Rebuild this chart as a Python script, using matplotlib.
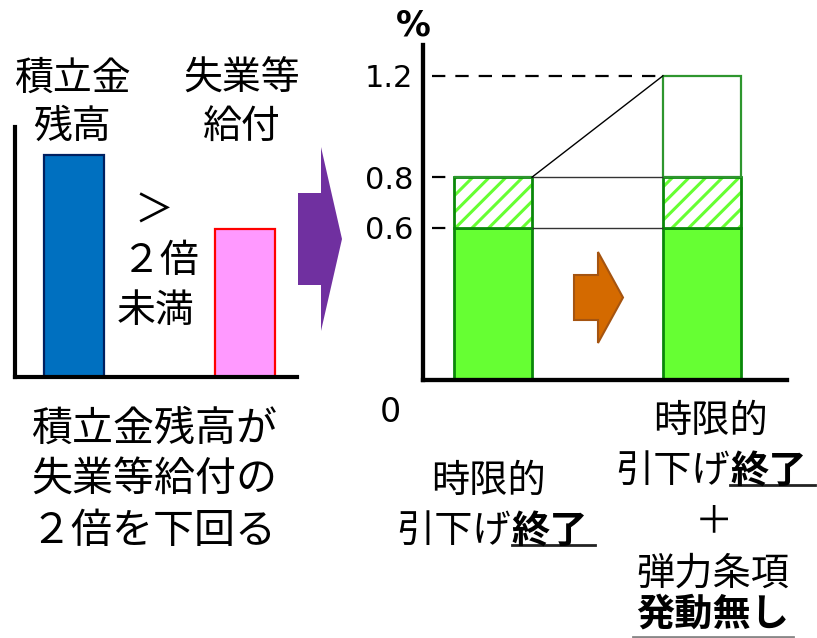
import matplotlib
matplotlib.use('Agg')
import matplotlib.pyplot as plt
from matplotlib.patches import FancyArrow

plt.rcParams['font.family'] = ['Noto Sans CJK JP', 'DejaVu Sans']
plt.rcParams['hatch.linewidth'] = 2.2

# left diagram: reserve balance vs unemployment benefits (relative)
left_names = [['積立金', '残高'], ['失業等', '給付']]
left_values = [1.5, 1.0]
left_colors = ['#0070C0', '#FF99FF']
left_edges = ['#002060', '#FF0000']

# right chart: premium rate (%)
rate_base = [0.6, 0.6]   # reduced rate
rate_temp = [0.8, 0.8]   # end of temporary reduction
rate_top = [0.8, 1.2]    # + no elastic clause
rate_ticks = [0.6, 0.8, 1.2]

W, H = 817, 638
fig = plt.figure(figsize=(W / 100, H / 100), dpi=100)


def box(x0, y0, x1, y1):
    # pixel box -> figure fraction
    return [x0 / W, 1 - y1 / H, (x1 - x0) / W, (y1 - y0) / H]


# ---- left small chart
ax1 = fig.add_axes(box(15, 127, 297, 377))
ax1.bar([0, 1], left_values, width=0.35, color=left_colors,
        edgecolor=left_edges, linewidth=1.6)
ax1.set_xlim(-0.345, 1.304)
ax1.set_ylim(0, 1.69)
for s in ['top', 'right']:
    ax1.spines[s].set_visible(False)
for s in ['left', 'bottom']:
    ax1.spines[s].set_linewidth(3)
ax1.set_xticks([])
ax1.set_yticks([])

# ---- right chart
ax2 = fig.add_axes(box(423, 45, 787, 380))
x = [0, 1]
w = 0.373
green = '#66FF33'
dkgreen = '#0A870A'
ax2.bar(x, rate_base, w, color=green, edgecolor=dkgreen, linewidth=2)
d1 = [t - b for t, b in zip(rate_temp, rate_base)]
ax2.bar(x, d1, w, bottom=rate_base, color='white', edgecolor=green,
        hatch='//', linewidth=0)
ax2.bar(x, d1, w, bottom=rate_base, fill=False, edgecolor=dkgreen, linewidth=2)
d2 = [t - m for t, m in zip(rate_top, rate_temp)]
ax2.bar(x, d2, w, bottom=rate_temp, fill=False, edgecolor='#2E962E', linewidth=1.6)

ends = [-w / 2 if v <= rate_top[0] else 1 - w / 2 for v in rate_ticks]
ax2.hlines(rate_ticks, -0.29, ends, colors='k', linewidth=1.6,
           linestyles=(0, (6, 4.5)))
ax2.hlines([rate_base[0], rate_temp[0]], w / 2, 1 - w / 2, colors='#333333', linewidth=1)
ax2.plot([w / 2, 1 - w / 2], [rate_top[0], rate_top[1]], color='k', linewidth=1)

ax2.set_xlim(-0.335, 1.407)
ax2.set_ylim(0, 1.3215)
ax2.set_yticks(rate_ticks)
ax2.set_yticklabels([f'{v:.1f}' for v in rate_ticks], fontsize=22, family='DejaVu Sans')
ax2.tick_params(axis='y', length=0, pad=7)
ax2.set_xticks([])
for s in ['top', 'right']:
    ax2.spines[s].set_visible(False)
for s in ['left', 'bottom']:
    ax2.spines[s].set_linewidth(3.1)

# ---- overlay for texts and arrows (pixel coords)
ax0 = fig.add_axes([0, 0, 1, 1])
ax0.set_xlim(0, W)
ax0.set_ylim(H, 0)
ax0.axis('off')

dy = 4  # CJK glyphs sit a little high with va='center'
fs = 28
for (l1, l2), cx in zip(left_names, [72, 242]):
    ax0.text(cx, 75 + dy, l1, fontsize=fs, ha='center', va='center')
    ax0.text(cx, 123 + dy, l2, fontsize=fs, ha='center', va='center')
ax0.text(154, 208 + dy, '＞', fontsize=fs, ha='center', va='center')
ax0.text(160, 257 + dy, '２倍', fontsize=fs, ha='center', va='center')
ax0.text(156, 307 + dy, '未満', fontsize=fs, ha='center', va='center')
for txt, y in zip(['積立金残高が', '失業等給付の', '２倍を下回る'], [425, 475, 527]):
    ax0.text(154, y + dy, txt, fontsize=29.5, ha='center', va='center')

ax0.add_patch(FancyArrow(298, 239, 44, 0, width=92, head_width=184, head_length=21,
                         length_includes_head=True, facecolor='#7030A0', linewidth=0))
ax0.add_patch(FancyArrow(574, 297.5, 49, 0, width=45, head_width=91, head_length=25,
                         length_includes_head=True, facecolor='#D46A00',
                         edgecolor='#A55410', linewidth=1.5))

ax0.text(413, 26, '%', fontsize=25, fontweight='bold', family='DejaVu Sans',
         ha='center', va='center')
ax0.text(390, 413, '0', fontsize=24, family='DejaVu Sans', ha='center', va='center')

fs2 = 27.5
# under bar 1
ax0.text(489, 477 + dy, '時限的', fontsize=fs2, ha='center', va='center')
ax0.text(511, 527 + dy, '引下げ', fontsize=fs2, ha='right', va='center')
ax0.text(511, 527 + dy, '終了', fontsize=fs2, fontweight='bold', ha='left', va='center')
ax0.plot([512, 595], [545, 545], color='#222222', linewidth=2)
# under bar 2
ax0.text(711, 417 + dy, '時限的', fontsize=fs2, ha='center', va='center')
ax0.text(730, 467 + dy, '引下げ', fontsize=fs2, ha='right', va='center')
ax0.text(730, 467 + dy, '終了', fontsize=fs2, fontweight='bold', ha='left', va='center')
ax0.plot([730, 815], [485, 485], color='#222222', linewidth=2)
ax0.text(714, 518 + dy, '＋', fontsize=fs2, ha='center', va='center')
ax0.text(713, 570 + dy, '弾力条項', fontsize=fs2, ha='center', va='center')
ax0.text(713, 610 + dy, '発動無し', fontsize=fs2, fontweight='bold', ha='center', va='center')
ax0.plot([633, 793], [637, 637], color='#888888', linewidth=2)

fig.savefig('out.png', dpi=100)
